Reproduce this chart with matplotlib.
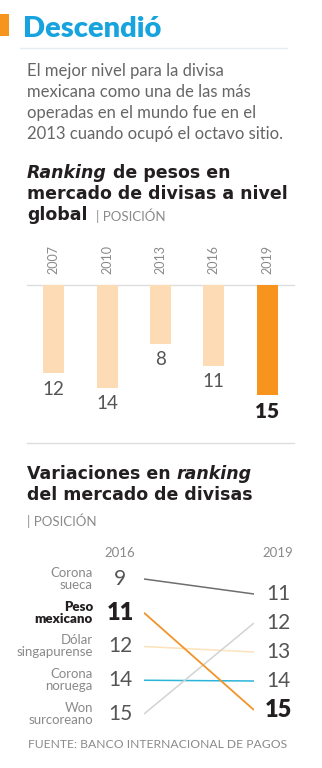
import matplotlib
matplotlib.use('Agg')
import matplotlib.pyplot as plt
from matplotlib.patches import Rectangle

W, H = 322, 768
plt.rcParams['font.family'] = ['Lato', 'DejaVu Sans']
BOLDF = ['DejaVu Sans']

# ---------------- data ----------------
title = "Descendió"
description = ["El mejor nivel para la divisa",
               "mexicana como una de las más",
               "operadas en el mundo fue en el",
               "2013 cuando ocupó el octavo sitio."]
bar_years = ['2007', '2010', '2013', '2016', '2019']
bar_ranks = [12, 14, 8, 11, 15]
slope_years = ['2016', '2019']
currencies = ['Corona\nsueca', 'Peso\nmexicano', 'Dólar\nsingapurense',
              'Corona\nnoruega', 'Won\nsurcoreano']
rank_2016 = [9, 11, 12, 14, 15]
rank_2019 = [11, 15, 13, 14, 12]
highlight = 'Peso\nmexicano'
source = 'FUENTE: BANCO INTERNACIONAL DE PAGOS'

# ---------------- style ----------------
CYAN = '#17A3DD'
ORANGE = '#F7941E'
PEACH = '#FDDBB4'
DARK = '#231F20'
GRAY = '#555555'
MGRAY = '#666666'
LGRAY = '#8A8A8A'
line_colors = ['#6E6E6E', '#F0942A', '#FDE2BC', '#2BB5D8', '#D3D3D3']

fig = plt.figure(figsize=(W / 100, H / 100), dpi=100)
ov = fig.add_axes([0, 0, 1, 1])
ov.set_xlim(0, W)
ov.set_ylim(H, 0)
ov.axis('off')


def fax(x0, y0, x1, y1):
    return [x0 / W, 1 - y1 / H, (x1 - x0) / W, (y1 - y0) / H]


# header
ov.add_patch(Rectangle((0, 14), 9, 22, color=ORANGE, lw=0))
ov.text(23, 37, title, fontsize=21, fontweight='heavy', color=CYAN, va='baseline')
ov.plot([20, 287], [48, 48], color='#E4ECF1', lw=1)
for i, line in enumerate(description):
    ov.text(27, 76 + 21 * i, line, fontsize=12, color=MGRAY, va='baseline',
            fontweight='normal')

TS = 12.5
TW = 'bold'
# bar chart title
t = ov.text(27, 178, 'Ranking', fontsize=TS, fontweight=TW, style='italic',
            color=DARK, va='baseline', family=BOLDF)
ov.annotate(' de pesos en', xy=(1, 0), xycoords=t, fontsize=TS, fontweight=TW,
            color=DARK, va='bottom', ha='left', family=BOLDF)
ov.text(27, 199, 'mercado de divisas a nivel', fontsize=TS, fontweight=TW,
        color=DARK, va='baseline', family=BOLDF)
t = ov.text(27, 220, 'global', fontsize=TS, fontweight=TW, color=DARK,
            va='baseline', family=BOLDF)
ov.annotate('| POSICIÓN', xy=(1, 0), xycoords=t, xytext=(8, 1),
            textcoords='offset pixels', fontsize=9.5, fontweight='normal',
            color=LGRAY, va='bottom', ha='left')

# bar chart
bax = fig.add_axes(fax(27, 285, 294, 430))
bax.set_xlim(-0.5, 4.5)
bax.set_ylim(146 / 7.4, 0)
bax.axis('off')
colors = [ORANGE if i == len(bar_ranks) - 1 else PEACH for i in range(len(bar_ranks))]
bax.bar(range(len(bar_ranks)), bar_ranks, width=0.39, color=colors, zorder=2)
bax.axhline(0, color='#DDDDDD', lw=1, zorder=1, clip_on=False)
for i, (yr, v) in enumerate(zip(bar_years, bar_ranks)):
    last = i == len(bar_ranks) - 1
    bax.annotate(str(v), (i, v), xytext=(0, -16), textcoords='offset pixels',
                 ha='center', va='center',
                 fontsize=15 if last else 13.5,
                 fontweight='heavy' if last else 'normal',
                 color=DARK if last else GRAY, annotation_clip=False)
    bax.annotate(yr, (i, 0), xytext=(0, 11), textcoords='offset pixels',
                 ha='center', va='bottom', rotation=90, fontsize=9,
                 fontweight='normal', color=LGRAY, annotation_clip=False)

ov.plot([27, 294], [443, 443], color='#DDDDDD', lw=1)

# slope chart title
t = ov.text(27, 479, 'Variaciones en ', fontsize=TS, fontweight=TW, color=DARK,
            va='baseline', family=BOLDF)
ov.annotate('ranking', xy=(1, 0), xycoords=t, fontsize=TS, fontweight=TW,
            style='italic', color=DARK, va='bottom', ha='left', family=BOLDF)
ov.text(27, 500, 'del mercado de divisas', fontsize=TS, fontweight=TW,
        color=DARK, va='baseline', family=BOLDF)
ov.text(27, 521, '| POSICIÓN', fontsize=9.5, fontweight='normal', color=LGRAY,
        va='center')


def y_left(i):
    return 579 + 33.75 * i


def y_right(r):
    return 594 + 29 * (r - 11)


sax = fig.add_axes(fax(144, 560, 254, 730))
sax.set_xlim(0, 1)
sax.set_ylim(730, 560)
sax.axis('off')

ov.text(120, 553, slope_years[0], fontsize=9.5, fontweight='normal', color=LGRAY,
        ha='center', va='center')
ov.text(278, 553, slope_years[1], fontsize=9.5, fontweight='normal', color=LGRAY,
        ha='center', va='center')

for i, (name, r0, r1, c) in enumerate(zip(currencies, rank_2016, rank_2019, line_colors)):
    hl = name == highlight
    sax.plot([0, 1], [y_left(i), y_right(r1)], color=c, lw=1.3 if hl else 1.1,
             zorder=3 if hl else 2, solid_capstyle='butt')
    ov.text(93, y_left(i), name, ha='right', va='center', fontsize=9.5,
            linespacing=1.0,
            fontweight='heavy' if hl else 'normal', color=DARK if hl else LGRAY)
    ov.text(120, y_left(i), str(r0), ha='center', va='center',
            fontsize=17 if hl else 15, fontweight='heavy' if hl else 'normal',
            color=DARK if hl else GRAY)
    ov.text(278, y_right(r1), str(r1), ha='center', va='center',
            fontsize=17 if hl else 15, fontweight='heavy' if hl else 'normal',
            color=DARK if hl else GRAY)

ov.text(28, 744, source, fontsize=8.7, fontweight='normal', color=LGRAY, va='center')

fig.savefig('out.png', dpi=100)
